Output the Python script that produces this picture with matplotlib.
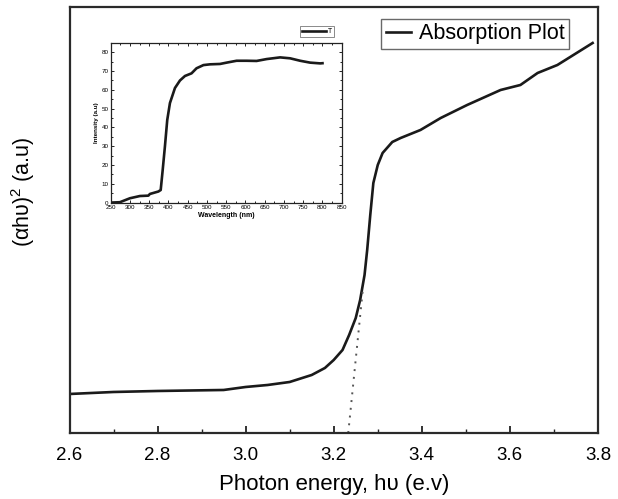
import matplotlib
matplotlib.use("Agg")
import matplotlib.pyplot as plt
import numpy as np
from matplotlib.ticker import MultipleLocator

plt.rcParams['font.family'] = ['Liberation Sans', 'DejaVu Sans']
plt.rcParams['mathtext.fontset'] = 'custom'
plt.rcParams['mathtext.rm'] = 'Liberation Sans'

# Main curve: photon energy (eV) vs (alpha h nu)^2 (arbitrary units)
energy = [2.60, 2.70, 2.80, 2.95, 3.00, 3.05, 3.10, 3.15, 3.18, 3.20, 3.22,
          3.235, 3.25, 3.26, 3.27, 3.276, 3.283, 3.29, 3.30, 3.311, 3.333,
          3.352, 3.397, 3.443, 3.503, 3.579, 3.624, 3.663, 3.708, 3.788]
absorb = [0.39, 0.41, 0.42, 0.43, 0.46, 0.48, 0.51, 0.58, 0.65, 0.73, 0.83,
          0.98, 1.15, 1.33, 1.58, 1.83, 2.18, 2.50, 2.68, 2.80, 2.91,
          2.95, 3.03, 3.15, 3.28, 3.43, 3.48, 3.60, 3.68, 3.90]

# Extrapolation (dotted) line
fit_x = [3.233, 3.266]
fit_y = [0.0, 1.43]

# Inset: wavelength (nm) vs intensity (a.u)
wavelength = [250, 274, 300, 326, 348, 352, 374, 380, 385, 391, 397, 404, 417,
              430, 443, 460, 473, 491, 508, 534, 551, 577, 603, 629, 655, 690,
              716, 742, 768, 794, 800]
intensity = [0.0, 0.2, 2.3, 3.5, 3.7, 4.6, 5.9, 6.7, 17, 30, 44, 53, 61,
             65, 67.4, 68.8, 71.5, 73.2, 73.6, 73.8, 74.5, 75.5, 75.5, 75.4,
             76.4, 77.3, 76.8, 75.5, 74.5, 74.1, 74.2]

fig = plt.figure(figsize=(6.18, 4.99), dpi=100)
ax = fig.add_axes([0.1125, 0.1323, 0.855, 0.8537])
lc = '#1a1a1a'
ax.plot(energy, absorb, color=lc, lw=1.9, label='Absorption Plot')
ax.plot(fit_x, fit_y, color='#555555', lw=1.4, ls=(0, (1, 3)))
ax.set_xlim(2.6, 3.8)
ax.set_ylim(0, 4.26)
ax.set_xticks([2.6, 2.8, 3.0, 3.2, 3.4, 3.6, 3.8])
ax.set_xticklabels(['2.6', '2.8', '3.0', '3.2', '3.4', '3.6', '3.8'])
ax.xaxis.set_minor_locator(MultipleLocator(0.1))
ax.set_yticks([])
ax.tick_params(axis='x', which='major', direction='in', length=5, width=1.3,
               labelsize=13.5, pad=10, color='#222222')
ax.tick_params(axis='x', which='minor', direction='in', length=3, width=1.0,
               color='#222222')
for s in ax.spines.values():
    s.set_linewidth(1.6)
    s.set_color('#2a2a2a')
ax.set_xlabel('Photon energy, hυ (e.v)', fontsize=16, labelpad=7)
ax.set_ylabel('(αhυ)$^2$ (a.u)', fontsize=15.5)
ax.yaxis.set_label_coords(-0.062, 0.566)
leg = ax.legend(loc='upper left', bbox_to_anchor=(0.590, 0.972), fontsize=15.5,
                frameon=True, fancybox=False, handlelength=1.2,
                borderpad=0.2, handletextpad=0.35, borderaxespad=0)
leg.get_frame().set_edgecolor('#444444')
leg.get_frame().set_linewidth(1.0)

# Inset
ins = fig.add_axes([0.179, 0.594, 0.374, 0.320])
ins.plot(wavelength, intensity, color=lc, lw=1.9, label='T')
ins.set_xlim(250, 850)
ins.set_ylim(0, 85)
ins.xaxis.set_major_locator(MultipleLocator(50))
ins.xaxis.set_minor_locator(MultipleLocator(25))
ins.yaxis.set_major_locator(MultipleLocator(10))
ins.yaxis.set_minor_locator(MultipleLocator(5))
ins.tick_params(which='both', direction='in', top=True, right=True,
                labelsize=4.5, length=2, width=0.6, pad=1.5)
ins.tick_params(which='minor', length=1.2)
for s in ins.spines.values():
    s.set_linewidth(0.9)
    s.set_color('#222222')
ins.set_xlabel('Wavelength (nm)', fontsize=5, labelpad=1.5, fontweight='bold')
ins.set_ylabel('Intensity (a.u)', fontsize=4.5, labelpad=2, fontweight='bold')
ileg = ins.legend(loc='upper left', bbox_to_anchor=(0.818, 1.105), fontsize=5,
                  frameon=True, fancybox=False, handlelength=3.5,
                  borderpad=0.3, handletextpad=0.2, borderaxespad=0)
ileg.get_frame().set_edgecolor('#555555')
ileg.get_frame().set_linewidth(0.6)

fig.savefig('out.png', dpi=100)
